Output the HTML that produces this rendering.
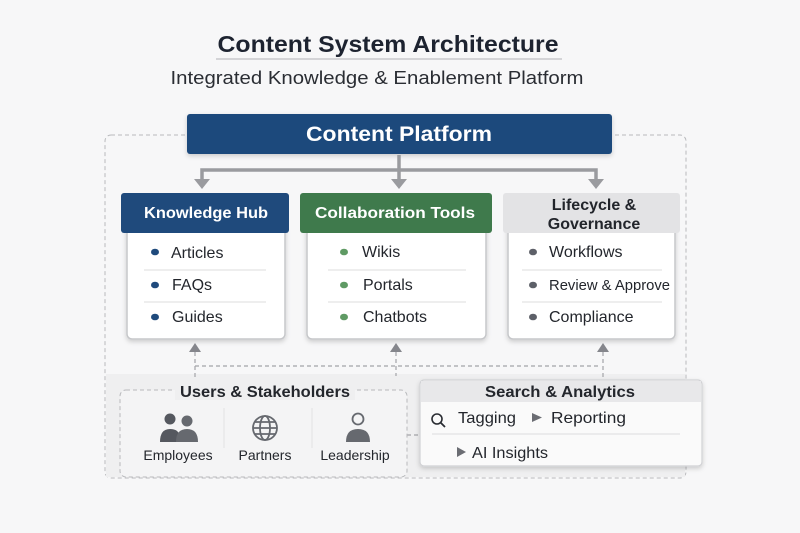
<!DOCTYPE html>
<html><head><meta charset="utf-8"><style>
html,body{margin:0;padding:0;background:#f7f7f8;}
svg{display:block;font-family:"Liberation Sans",sans-serif;}
</style></head><body>
<svg width="800" height="533" viewBox="0 0 800 533" xmlns="http://www.w3.org/2000/svg">
<defs>
<filter id="sh" x="-10%" y="-10%" width="120%" height="140%"><feDropShadow dx="0" dy="2" stdDeviation="2.5" flood-color="#000" flood-opacity="0.18"/></filter>
</defs>
<rect width="800" height="533" fill="#f7f7f8"/>
<!-- title -->
<text x="388" y="52" text-anchor="middle" font-size="23" font-weight="bold" fill="#1d2330" textLength="341" lengthAdjust="spacingAndGlyphs">Content System Architecture</text>
<line x1="216" y1="59" x2="562" y2="59" stroke="#c8c9cc" stroke-width="1.5"/>
<text x="377" y="84" text-anchor="middle" font-size="18" fill="#2a2d33" textLength="413" lengthAdjust="spacingAndGlyphs">Integrated Knowledge &amp; Enablement Platform</text>

<!-- outer dashed -->
<rect x="105" y="135" width="581" height="343" rx="6" fill="none" stroke="#b8b9bc" stroke-dasharray="4,3"/>

<!-- bottom band -->
<rect x="106" y="374" width="579" height="103" fill="#efeff0"/>

<!-- content platform -->
<rect x="187" y="114" width="425" height="40" rx="3" fill="#1f4a7c" filter="url(#sh)"/>
<text x="399" y="141" text-anchor="middle" font-size="21" font-weight="bold" fill="#fff" textLength="186" lengthAdjust="spacingAndGlyphs">Content Platform</text>

<!-- connectors -->
<g stroke="#9a9b9f" stroke-width="3.5" fill="none">
<line x1="399" y1="155" x2="399" y2="180"/>
<polyline points="202,180 202,170 596,170 596,180"/>
</g>
<g fill="#9a9b9f">
<polygon points="194,179 210,179 202,189"/>
<polygon points="391,179 407,179 399,189"/>
<polygon points="588,179 604,179 596,189"/>
</g>

<!-- Knowledge Hub -->
<rect x="127" y="225" width="158" height="114" rx="5" fill="#fff" stroke="#c6c7ca" stroke-width="1.5" filter="url(#sh)"/>
<rect x="121" y="193" width="168" height="40" rx="3" fill="#1f4a7c"/>
<text x="206" y="218" text-anchor="middle" font-size="16" font-weight="bold" fill="#fff" textLength="124" lengthAdjust="spacingAndGlyphs">Knowledge Hub</text>
<!-- Collaboration -->
<rect x="307" y="225" width="179" height="114" rx="5" fill="#fff" stroke="#c6c7ca" stroke-width="1.5" filter="url(#sh)"/>
<rect x="300" y="193" width="192" height="40" rx="3" fill="#3f7a4c"/>
<text x="395" y="218" text-anchor="middle" font-size="16" font-weight="bold" fill="#fff" textLength="160" lengthAdjust="spacingAndGlyphs">Collaboration Tools</text>
<!-- Lifecycle -->
<rect x="508" y="225" width="167" height="114" rx="5" fill="#fff" stroke="#c6c7ca" stroke-width="1.5" filter="url(#sh)"/>
<rect x="503" y="193" width="177" height="40" rx="3" fill="#e3e3e5"/>
<text x="594" y="210" text-anchor="middle" font-size="16" font-weight="bold" fill="#22252b">Lifecycle &amp;</text>
<text x="594" y="229" text-anchor="middle" font-size="16" font-weight="bold" fill="#22252b">Governance</text>

<g stroke="#dcdcde" stroke-width="1">
<line x1="144" y1="270" x2="266" y2="270"/><line x1="144" y1="302" x2="266" y2="302"/>
<line x1="328" y1="270" x2="466" y2="270"/><line x1="328" y1="302" x2="466" y2="302"/>
<line x1="522" y1="270" x2="662" y2="270"/><line x1="522" y1="302" x2="662" y2="302"/>
</g>
<g font-size="16" fill="#23262c">
<text x="171" y="258">Articles</text><text x="172" y="290">FAQs</text><text x="172" y="322">Guides</text>
<text x="362" y="257">Wikis</text><text x="363" y="290">Portals</text><text x="363" y="322">Chatbots</text>
<text x="549" y="257">Workflows</text><text x="549" y="290" font-size="14.5" textLength="121" lengthAdjust="spacingAndGlyphs">Review &amp; Approve</text><text x="549" y="322">Compliance</text>
</g>
<g fill="#1f4a7c"><ellipse cx="155" cy="252" rx="4" ry="3.3"/><ellipse cx="155" cy="285" rx="4" ry="3.3"/><ellipse cx="155" cy="317" rx="4" ry="3.3"/></g>
<g fill="#5f9a64"><ellipse cx="344" cy="252" rx="4" ry="3.3"/><ellipse cx="344" cy="285" rx="4" ry="3.3"/><ellipse cx="344" cy="317" rx="4" ry="3.3"/></g>
<g fill="#5d6068"><ellipse cx="533" cy="252" rx="4" ry="3.3"/><ellipse cx="533" cy="285" rx="4" ry="3.3"/><ellipse cx="533" cy="317" rx="4" ry="3.3"/></g>

<!-- up arrows & dashed -->
<g stroke="#a3a4a8" stroke-width="1.2" stroke-dasharray="4,3" fill="none">
<line x1="195" y1="366" x2="600" y2="366"/>
<line x1="195" y1="352" x2="195" y2="378"/>
<line x1="396" y1="352" x2="396" y2="376"/>
<line x1="603" y1="352" x2="603" y2="380"/>
<line x1="407" y1="435" x2="419" y2="435"/>
</g>
<g fill="#85868c">
<polygon points="189,352 201,352 195,343"/>
<polygon points="390,352 402,352 396,343"/>
<polygon points="597,352 609,352 603,343"/>
</g>

<!-- Users -->
<rect x="120" y="390" width="287" height="87" rx="6" fill="#f4f4f5" stroke="#b8b9bc" stroke-dasharray="4,3"/>
<rect x="175" y="380" width="180" height="20" fill="#efeff0"/>
<text x="265" y="397" text-anchor="middle" font-size="16" font-weight="bold" fill="#23262c" textLength="170" lengthAdjust="spacingAndGlyphs">Users &amp; Stakeholders</text>
<g stroke="#e2e2e4"><line x1="224" y1="408" x2="224" y2="448"/><line x1="312" y1="408" x2="312" y2="448"/></g>
<!-- employees icon -->
<g fill="#55585f">
<circle cx="170" cy="419" r="5.5"/><path d="M160 442 q0-13 10-13 q9 0 10 8 l0 5z"/>
<circle cx="187" cy="421" r="5.5" fill="#66696f"/><path d="M176 442 q0-13 11-13 q11 0 11 13z" fill="#66696f"/>
</g>
<!-- globe -->
<g fill="none" stroke="#66696f" stroke-width="1.8">
<circle cx="265" cy="428" r="12"/><ellipse cx="265" cy="428" rx="5" ry="12"/><line x1="253" y1="428" x2="277" y2="428"/><line x1="255" y1="422" x2="275" y2="422"/><line x1="255" y1="434" x2="275" y2="434"/>
</g>
<!-- leader -->
<circle cx="358" cy="419" r="5.5" fill="none" stroke="#66696f" stroke-width="1.8"/>
<path d="M346 442 q0-13 12-13 q12 0 12 13z" fill="#66696f"/>
<g font-size="14" fill="#23262c" text-anchor="middle">
<text x="178" y="460">Employees</text><text x="265" y="460">Partners</text><text x="355" y="460">Leadership</text>
</g>

<!-- Search & Analytics -->
<rect x="420" y="380" width="282" height="86" rx="4" fill="#fafafa" stroke="#d0d1d4" stroke-width="1.2" filter="url(#sh)"/>
<rect x="421" y="381" width="280" height="21" fill="#e8e8ea"/>
<text x="560" y="397" text-anchor="middle" font-size="16" font-weight="bold" fill="#23262c" textLength="150" lengthAdjust="spacingAndGlyphs">Search &amp; Analytics</text>
<circle cx="437" cy="419" r="5" fill="none" stroke="#2a2d33" stroke-width="1.6"/><line x1="441" y1="423" x2="445" y2="427" stroke="#2a2d33" stroke-width="1.8"/>
<text x="458" y="423" font-size="16" fill="#23262c" textLength="58" lengthAdjust="spacingAndGlyphs">Tagging</text>
<polygon points="532,413 532,422 542,417.5" fill="#6b6d73"/>
<text x="551" y="423" font-size="16" fill="#23262c" textLength="75" lengthAdjust="spacingAndGlyphs">Reporting</text>
<line x1="432" y1="434" x2="680" y2="434" stroke="#dcdcde"/>
<polygon points="457,447 457,457 466,452" fill="#6b6d73"/>
<text x="472" y="458" font-size="16" fill="#23262c" textLength="76" lengthAdjust="spacingAndGlyphs">AI Insights</text>
</svg>
</body></html>
